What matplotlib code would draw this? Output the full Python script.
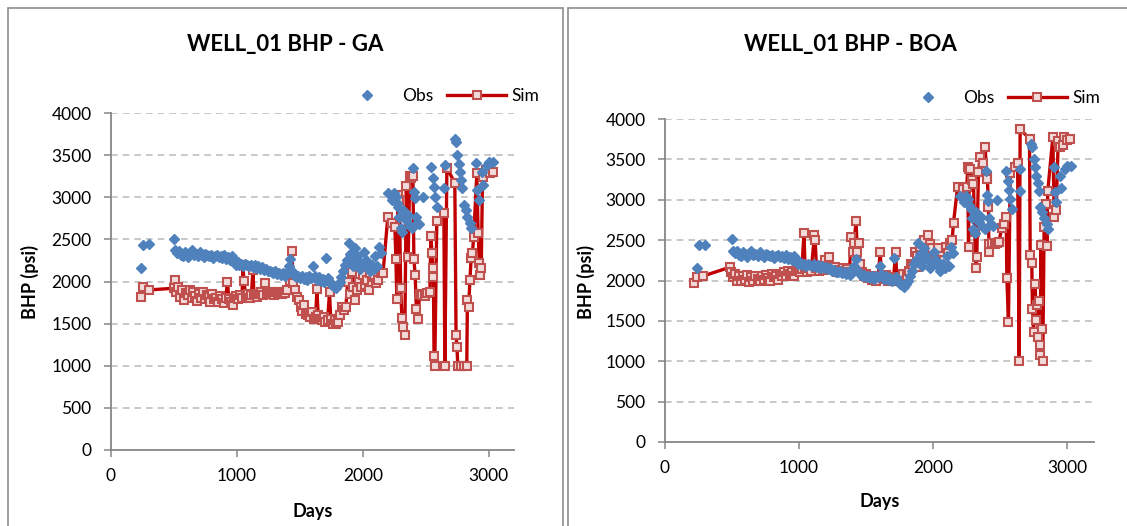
#!/usr/bin/env python3
"""WELL_01 BHP history match: observed vs simulated, GA and BOA runs."""

import matplotlib
matplotlib.use("Agg")
import matplotlib.pyplot as plt
from matplotlib.patches import Rectangle

plt.rcParams["font.family"] = ["Lato", "DejaVu Sans"]

# observed BHP (same in both panels)
obs_days = [238, 254, 302, 500, 510, 525, 540, 555, 570, 585, 600, 615, 630, 645,
            660, 675, 690, 705, 720, 735, 750, 765, 780, 795, 810, 825, 840, 855,
            870, 885, 900, 915, 930, 945, 960, 975, 990, 1005, 1020, 1035, 1050,
            1065, 1080, 1095, 1110, 1125, 1140, 1155, 1170, 1185, 1200, 1215, 1230,
            1245, 1260, 1275, 1290, 1305, 1320, 1335, 1350, 1365, 1380, 1395, 1410,
            1425, 1440, 1455, 1470, 1485, 1500, 1515, 1530, 1545, 1560, 1575, 1590,
            1605, 1620, 1635, 1650, 1665, 1680, 1695, 1710, 1725, 1740, 1755, 1770,
            1785, 1800, 1815, 1830, 1845, 1860, 1875, 1890, 1900, 1910, 1920, 1935,
            1950, 1965, 1980, 1995, 2010, 2025, 2040, 2055, 2070, 2085, 2100, 2115,
            2130, 2145, 2198, 2230, 2245, 2260, 2270, 2280, 2290, 2300, 2310, 2320,
            2340, 2360, 2375, 2390, 2397, 2405, 2410, 2420, 2430, 2445, 2480, 2540,
            2555, 2565, 2575, 2585, 2645, 2650, 2730, 2740, 2750, 2760, 2770, 2780,
            2790, 2800, 2815, 2830, 2850, 2857, 2900, 2910, 2920, 2945, 2955, 2985,
            3000, 3032]
obs_bhp = [2160, 2435, 2445, 2510, 2370, 2340, 2360, 2320, 2300, 2350, 2330, 2290,
           2340, 2370, 2310, 2330, 2300, 2350, 2320, 2290, 2330, 2310, 2300, 2320,
           2280, 2300, 2310, 2290, 2300, 2280, 2310, 2270, 2290, 2260, 2300, 2250,
           2200, 2230, 2190, 2210, 2180, 2210, 2190, 2180, 2200, 2170, 2190, 2160,
           2180, 2150, 2170, 2140, 2150, 2120, 2130, 2110, 2100, 2120, 2090, 2100,
           2080, 2100, 2070, 2110, 2180, 2270, 2120, 2080, 2050, 2070, 2040, 2060,
           2030, 2050, 2020, 2060, 2040, 2180, 2070, 2020, 2050, 2010, 2030, 2000,
           2280, 2040, 1990, 1960, 1940, 1920, 1960, 1990, 2050, 2120, 2200, 2260,
           2460, 2330, 2230, 2180, 2400, 2300, 2250, 2150, 2200, 2350, 2250, 2180,
           2120, 2200, 2150, 2300, 2180, 2410, 2340, 3050, 2970, 3050, 3005, 2930,
           2890, 2770, 2635, 2590, 2850, 2730, 2790, 2660, 2640, 3350, 3065, 2990,
           2770, 2700, 2680, 3000, 3360, 3230, 3125, 3005, 2890, 3110, 3385, 3690,
           3650, 3500, 3400, 3300, 3205, 3110, 2910, 2850, 2770, 2700, 2635, 3410,
           3090, 2970, 3300, 3150, 3385, 3420, 3420]

# simulated BHP, GA run
ga_days = [238, 254, 302, 500, 510, 520, 535, 550, 565, 580, 595, 610, 625, 640,
           655, 670, 685, 700, 715, 730, 745, 760, 775, 790, 805, 820, 835, 850,
           865, 880, 895, 910, 925, 935, 950, 965, 980, 995, 1010, 1025, 1040,
           1048, 1055, 1070, 1085, 1100, 1115, 1127, 1135, 1145, 1160, 1175, 1190,
           1205, 1220, 1235, 1250, 1265, 1280, 1295, 1310, 1325, 1340, 1355, 1370,
           1385, 1400, 1420, 1437, 1445, 1460, 1475, 1490, 1505, 1520, 1535, 1550,
           1565, 1580, 1595, 1610, 1625, 1635, 1645, 1660, 1675, 1690, 1700, 1720,
           1735, 1745, 1760, 1775, 1790, 1805, 1820, 1835, 1850, 1865, 1880, 1895,
           1910, 1925, 1940, 1955, 1970, 1985, 2000, 2015, 2030, 2045, 2060, 2075,
           2090, 2105, 2120, 2140, 2160, 2198, 2230, 2254, 2262, 2270, 2278, 2290,
           2300, 2310, 2318, 2333, 2345, 2360, 2372, 2385, 2397, 2405, 2415, 2425,
           2437, 2450, 2468, 2490, 2510, 2532, 2540, 2548, 2555, 2560, 2565, 2571,
           2587, 2643, 2651, 2667, 2730, 2740, 2747, 2754, 2780, 2800, 2825, 2830,
           2840, 2850, 2860, 2870, 2880, 2905, 2915, 2925, 2932, 2940, 2950, 2980,
           3010, 3032]
ga_bhp = [1820, 1935, 1900, 1920, 2020, 1880, 1940, 1820, 1900, 1780, 1860, 1840,
          1900, 1800, 1880, 1830, 1770, 1850, 1800, 1870, 1790, 1840, 1820, 1760,
          1850, 1790, 1810, 1760, 1830, 1790, 1740, 1800, 2000, 1790, 1760, 1720,
          1800, 1830, 1790, 1840, 1800, 2200, 2010, 1830, 1850, 1810, 1840, 2140,
          1850, 1840, 1820, 1850, 1880, 1840, 1980, 1860, 1850, 1880, 1860, 1840,
          1870, 1850, 1880, 1850, 1870, 1860, 1900, 2010, 2365, 1980, 1900, 1820,
          1780, 1700, 1650, 1720, 1620, 1600, 1580, 1640, 1560, 1580, 1910, 1600,
          1560, 1540, 1580, 1520, 1545, 1870, 1560, 1500, 1540, 1490, 1520, 1600,
          1700, 1660, 1700, 2000, 1850, 2115, 1940, 1780, 1900, 2000, 1940, 2080,
          1960, 2020, 1900, 2100, 2000, 2050, 1980, 2020, 2100, 2100, 2770, 2700,
          2650, 2270, 1795, 3030, 2970, 1925, 1570, 1460, 1365, 3135, 2290, 3255,
          3230, 3255, 2270, 2080, 1670, 1555, 1850, 1840, 1830, 1860, 1875, 2540,
          2340, 2160, 2055, 1115, 1000, 2720, 2815, 1000, 3350, 3170, 1365, 1225,
          1000, 1000, 1000, 1000, 1780, 1700, 2020, 2280, 2340, 2530, 3290, 2575,
          2220, 2080, 2160, 3245, 3325, 3290, 3300]

# simulated BHP, BOA run
boa_days = [216, 238, 284, 485, 495, 510, 525, 540, 555, 570, 585, 600, 615, 630,
            645, 660, 675, 690, 705, 720, 735, 750, 765, 780, 795, 810, 825, 840,
            855, 870, 885, 900, 915, 930, 945, 960, 975, 990, 1005, 1020, 1037,
            1045, 1060, 1075, 1090, 1115, 1120, 1130, 1145, 1160, 1180, 1195, 1210,
            1225, 1240, 1255, 1270, 1285, 1300, 1315, 1330, 1345, 1360, 1375, 1390,
            1400, 1410, 1425, 1435, 1445, 1455, 1470, 1485, 1500, 1515, 1530, 1545,
            1560, 1575, 1590, 1605, 1615, 1630, 1645, 1660, 1675, 1690, 1705, 1720,
            1730, 1745, 1760, 1775, 1790, 1805, 1820, 1835, 1850, 1866, 1880, 1890,
            1903, 1915, 1930, 1945, 1963, 1975, 1990, 2005, 2020, 2035, 2050, 2065,
            2080, 2095, 2110, 2125, 2142, 2152, 2182, 2220, 2251, 2258, 2264, 2270,
            2276, 2290, 2301, 2310, 2321, 2326, 2338, 2351, 2370, 2388, 2400, 2405,
            2413, 2416, 2420, 2440, 2460, 2475, 2490, 2512, 2530, 2545, 2550, 2562,
            2575, 2610, 2630, 2642, 2649, 2719, 2724, 2736, 2741, 2749, 2761, 2769,
            2775, 2786, 2790, 2794, 2799, 2804, 2810, 2818, 2828, 2843, 2848, 2855,
            2893, 2903, 2918, 2933, 2950, 2968, 2973, 3000, 3022]
boa_bhp = [1965, 2045, 2055, 2165, 2100, 2040, 2080, 2000, 2060, 1990, 2050, 2010,
           2070, 1980, 2040, 2000, 2060, 2020, 1990, 2050, 2010, 2070, 2030, 2000,
           2080, 2040, 2060, 2010, 2080, 2050, 2100, 2060, 2120, 2080, 2100, 2060,
           2120, 2140, 2100, 2140, 2585, 2150, 2110, 2160, 2120, 2560, 2500, 2150,
           2120, 2170, 2130, 2250, 2180, 2290, 2160, 2140, 2170, 2110, 2130, 2100,
           2160, 2120, 2140, 2100, 2540, 2350, 2460, 2735, 2350, 2460, 2200, 2100,
           2050, 2080, 2030, 2060, 2010, 2040, 2000, 2050, 2350, 2060, 2020, 2070,
           2000, 2040, 1990, 2030, 2350, 2020, 1990, 2040, 2080, 2000, 2050, 2120,
           2200, 2180, 2350, 2300, 2165, 2415, 2310, 2500, 2340, 2560, 2450, 2400,
           2300, 2250, 2400, 2200, 2300, 2250, 2420, 2340, 2460, 2500, 2715, 3152,
           3130, 3160, 3408, 2417, 3375, 3375, 3250, 3201, 2600, 2149, 2294, 3346,
           3532, 3450, 3655, 3300, 3251, 2912, 2355, 2450, 2470, 2450, 2470, 2480,
           2644, 2700, 2788, 2029, 1481, 3334, 3400, 3461, 1002, 3870, 3758, 2314,
           2211, 1642, 1365, 1955, 1510, 1700, 1303, 1745, 1077, 1200, 2438, 1400,
           1002, 2665, 2945, 2426, 3106, 3771, 2781, 2871, 3729, 3650, 3676, 3771,
           3740, 3750]

W, H = 1127, 526
BLUE = "#4F81BD"
RED_LINE = "#C00000"
RED_MARK = "#C0504D"
GRAY = "#868686"


def px_axes(fig, x0, x1, ytop, ybot):
    return fig.add_axes([x0 / W, 1 - ybot / H, (x1 - x0) / W, (ybot - ytop) / H])


def draw_panel(fig, ax, sim_days, sim_bhp, title, tcx, legend_anchor):
    ax.plot(sim_days, sim_bhp, color=RED_LINE, lw=2.4, marker="s", ms=5.5,
            mfc="#F2DCDB", mec=RED_MARK, mew=1.5, label="Sim", zorder=2)
    ax.plot(obs_days, obs_bhp, ls="none", marker="D", ms=5, color=BLUE,
            mec=BLUE, label="Obs", zorder=3)
    ax.set_xlim(0, 3200)
    ax.set_ylim(0, 4000)
    ax.set_xticks([0, 1000, 2000, 3000])
    ax.set_yticks(range(0, 4001, 500))
    for y in range(500, 4001, 500):
        ax.axhline(y, color="#BFBFBF", lw=1.2, ls=(0, (4, 3)), zorder=1)
    for s in ("top", "right"):
        ax.spines[s].set_visible(False)
    for s in ("left", "bottom"):
        ax.spines[s].set_color(GRAY)
        ax.spines[s].set_linewidth(1.3)
    ax.tick_params(axis="both", direction="out", length=5, width=1.1,
                   color=GRAY, labelsize=12.5)
    ax.tick_params(axis="y", pad=9)
    ax.tick_params(axis="x", pad=8)
    handles, labels = ax.get_legend_handles_labels()
    ax.legend(handles[::-1], labels[::-1], ncol=2, frameon=False, fontsize=12.5,
              loc="center right", bbox_to_anchor=legend_anchor, numpoints=1,
              handlelength=3.4, handletextpad=0.3, columnspacing=0.8,
              borderaxespad=0)
    fig.text(tcx / W, 1 - 45 / H, title, ha="center", va="center",
             fontsize=16, fontweight="bold")


fig = plt.figure(figsize=(W / 100, H / 100), dpi=100)

# chart-area borders
fig.patches.append(Rectangle((8 / W, -0.1), 555 / W, 1.1 - 8 / H,
                             transform=fig.transFigure, fill=False,
                             ec="#8C8C8C", lw=1.2))
fig.patches.append(Rectangle((568 / W, -0.1), 600 / W, 1.1 - 8 / H,
                             transform=fig.transFigure, fill=False,
                             ec="#8C8C8C", lw=1.2))

ax1 = px_axes(fig, 111, 514, 113, 450)
draw_panel(fig, ax1, ga_days, ga_bhp, "WELL_01 BHP - GA", 285, (1.08, 1.05))
ax2 = px_axes(fig, 665, 1094, 119, 442)
draw_panel(fig, ax2, boa_days, boa_bhp, "WELL_01 BHP - BOA", 850, (1.03, 1.065))

fig.text(30 / W, 1 - 282 / H, "BHP (psi)", rotation=90, ha="center",
         va="center", fontsize=13, fontweight="bold")
fig.text(586 / W, 1 - 282 / H, "BHP (psi)", rotation=90, ha="center",
         va="center", fontsize=13, fontweight="bold")
fig.text(313 / W, 1 - 511 / H, "Days", ha="center", va="center",
         fontsize=13, fontweight="bold")
fig.text(880 / W, 1 - 502 / H, "Days", ha="center", va="center",
         fontsize=13, fontweight="bold")

fig.savefig("out.png", dpi=100)
